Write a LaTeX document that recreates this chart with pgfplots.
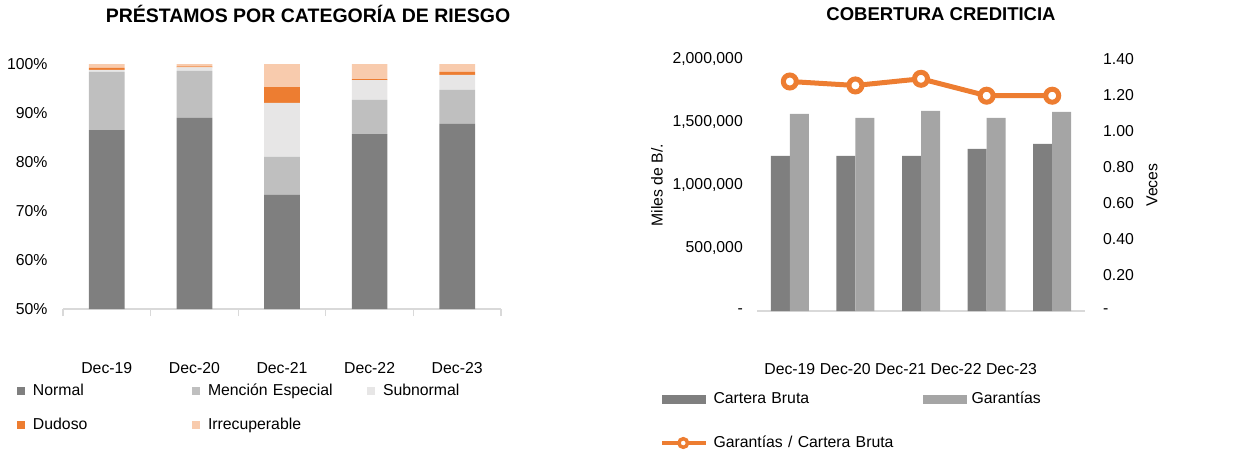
\documentclass[border=0pt]{standalone}
\usepackage{fontspec}
\setmainfont{Liberation Sans}
\usepackage{pgfplots}
\pgfplotsset{compat=1.18}
\definecolor{cNormal}{HTML}{7F7F7F}
\definecolor{cMencion}{HTML}{BFBFBF}
\definecolor{cSub}{HTML}{E7E6E6}
\definecolor{cDud}{HTML}{ED7D31}
\definecolor{cIrr}{HTML}{F8CBAD}
\definecolor{cGar}{HTML}{A5A5A5}
\definecolor{cAxis}{HTML}{D9D9D9}
\newcommand\lab{\fontsize{15.8pt}{18pt}\selectfont}
\newcommand\ttl{\fontsize{18.5pt}{21pt}\selectfont\bfseries}
\newcommand\ttlL{\fontsize{19.5pt}{22pt}\selectfont\bfseries}
\begin{document}
\begin{tikzpicture}[x=1pt,y=1pt]
\useasboundingbox (0,0) rectangle (1246,450);
% ---------------- Left chart ----------------
\begin{axis}[
  at={(63pt,141pt)}, anchor=south west,
  scale only axis, width=438pt, height=245pt,
  xmin=-0.5, xmax=4.5, ymin=50, ymax=100,
  ybar stacked, bar width=35.7pt,
  axis x line*=bottom, axis y line*=left,
  y axis line style={draw=none},
  x axis line style={-, draw=cAxis, line width=1.3pt},
  ytick={50,60,70,80,90,100},
  yticklabels={50\%,60\%,70\%,80\%,90\%,100\%},
  ytick style={draw=none},
  xtick={0,1,2,3,4},
  xticklabels={Dec-19,Dec-20,Dec-21,Dec-22,Dec-23},
  major x tick style={draw=none},
  minor xtick={-0.5,0.5,1.5,2.5,3.5,4.5},
  minor x tick style={draw=cAxis, line width=1.3pt},
  minor tick length=7pt, tick align=outside,
  ticklabel style={font=\lab, inner sep=0pt},
  yticklabel style={anchor=east, xshift=-11pt},
  xticklabel style={anchor=base, yshift=-60.7pt},
  title={PRÉSTAMOS POR CATEGORÍA DE RIESGO},
  title style={font=\ttlL, at={(rel axis cs:0.5,1)}, anchor=center, xshift=26pt, yshift=44pt},
  legend columns=3,
  legend cell align=left,
  legend image code/.code={\fill[#1] (0pt,-4pt) rectangle (8pt,4pt);},
  legend style={at={(rel axis cs:0,0)}, anchor=north west, xshift=-46pt, yshift=-74pt,
    draw=none, fill=none, inner sep=0pt, outer sep=0pt, font=\lab, row sep=18pt,
    nodes={inner sep=0pt, text height=12pt, text depth=4pt, text width=150pt},
    /tikz/every odd column/.append style={column sep=8pt},
    /tikz/every even column/.append style={column sep=9pt}},
]
\addplot[fill=cNormal, draw=none] coordinates {(0,86.5) (1,89.0) (2,73.3) (3,85.7) (4,87.8)};
\addplot[fill=cMencion, draw=none] coordinates {(0,11.9) (1,9.6) (2,7.75) (3,7.0) (4,6.9)};
\addplot[fill=cSub, draw=none] coordinates {(0,0.4) (1,0.7) (2,11.0) (3,4.0) (4,3.1)};
\addplot[fill=cDud, draw=none] coordinates {(0,0.4) (1,0.2) (2,3.25) (3,0.2) (4,0.6)};
\addplot[fill=cIrr, draw=none] coordinates {(0,0.8) (1,0.55) (2,4.7) (3,3.1) (4,1.6)};
\legend{Normal,Mención Especial,Subnormal,Dudoso,Irrecuperable}
\end{axis}
% ---------------- Right chart: bars ----------------
\begin{axis}[
  at={(757pt,139pt)}, anchor=south west,
  scale only axis, width=328pt, height=252pt,
  xmin=-0.5, xmax=4.5, ymin=0, ymax=2000000,
  ybar=0pt, bar width=19pt,
  axis x line*=bottom, axis y line*=left,
  y axis line style={draw=none},
  x axis line style={-, draw=cAxis, line width=1.3pt},
  ytick={0,500000,1000000,1500000,2000000},
  yticklabels={-,{500,000},{1,000,000},{1,500,000},{2,000,000}},
  scaled y ticks=false,
  tick style={draw=none},
  xtick={0,0.846,1.69,2.535,3.38},
  xticklabels={Dec-19,Dec-20,Dec-21,Dec-22,Dec-23},
  ticklabel style={font=\lab, inner sep=0pt},
  yticklabel style={anchor=east, xshift=-14pt},
  xticklabel style={anchor=base, yshift=-59.7pt},
  ylabel={Miles de B/.},
  every axis y label/.style={at={(rel axis cs:0,0.5)}, xshift=-100pt, rotate=90, anchor=center, font=\lab},
  title={COBERTURA CREDITICIA},
  title style={font=\ttl, at={(rel axis cs:0.5,1)}, anchor=center, xshift=20pt, yshift=39pt},
  legend columns=2,
  legend cell align=left,
  legend image code/.code={\fill[#1] (0pt,-4.5pt) rectangle (44pt,4.5pt);},
  legend style={at={(rel axis cs:0,0)}, anchor=north west, xshift=-97pt, yshift=-80pt,
    draw=none, fill=none, inner sep=0pt, outer sep=0pt, font=\lab, row sep=28pt,
    nodes={inner sep=0pt, text height=12pt, text depth=4pt, text width=200pt},
    /tikz/every odd column/.append style={column sep=5pt},
    /tikz/every even column/.append style={column sep=9pt}},
]
\addplot[fill=cNormal, draw=none] coordinates {(0,1231000) (1,1231000) (2,1231000) (3,1286000) (4,1326000)};
\addplot[fill=cGar, draw=none] coordinates {(0,1565000) (1,1533000) (2,1589000) (3,1533000) (4,1581000)};
\addlegendentry{Cartera Bruta}
\addlegendentry{Garantías}
\addlegendimage{legend image code/.code={
  \draw[cDud, line width=4.5pt] (0pt,0pt)--(44pt,0pt);
  \draw[cDud, line width=3.5pt, fill=white] (21pt,0pt) circle (4.3pt);}}
\addlegendentry{Garantías / Cartera Bruta}
\end{axis}
% ---------------- Right chart: line ----------------
\begin{axis}[
  at={(757pt,139pt)}, anchor=south west,
  scale only axis, width=328pt, height=252pt,
  xmin=-0.5, xmax=4.5, ymin=0, ymax=1.4,
  axis x line=none, axis y line*=right,
  y axis line style={draw=none},
  xtick=\empty,
  ytick={0,0.2,0.4,0.6,0.8,1.0,1.2,1.4},
  yticklabels={-,0.20,0.40,0.60,0.80,1.00,1.20,1.40},
  ytick style={draw=none},
  ticklabel style={font=\lab, inner sep=0pt},
  yticklabel style={anchor=west, xshift=18pt},
  ylabel={Veces},
  every axis y label/.style={at={(rel axis cs:1,0.5)}, xshift=67pt, rotate=90, anchor=center, font=\lab},
  clip=false,
]
\addplot[cDud, line width=5pt, mark=*, mark size=6.5pt,
  mark options={fill=white, draw=cDud, line width=5pt}]
  coordinates {(0,1.275) (1,1.253) (2,1.29) (3,1.196) (4,1.196)};
\end{axis}
\end{tikzpicture}
\end{document}
